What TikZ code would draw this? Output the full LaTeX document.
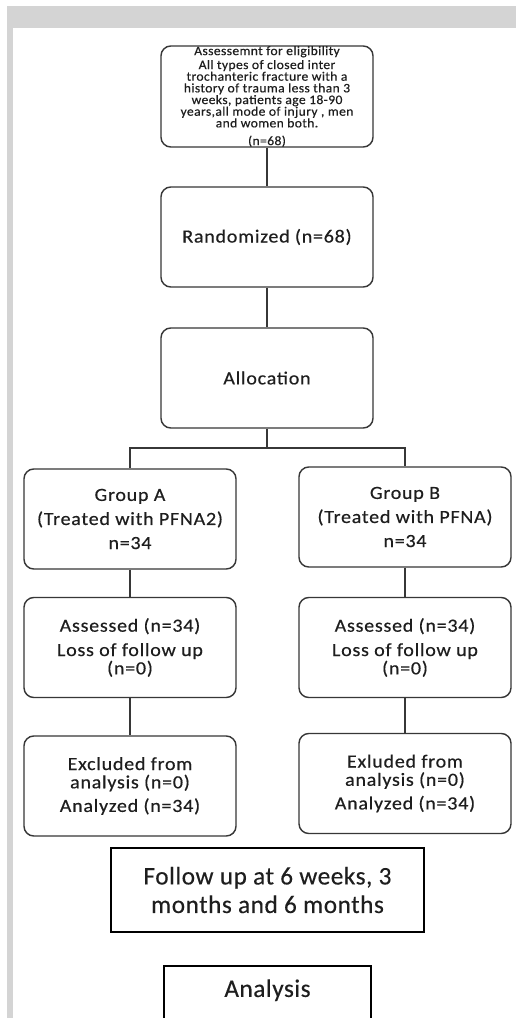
\documentclass[tikz,border=0pt]{standalone}
\usepackage{fontspec}
\usepackage{tikz}
\usepackage{xcolor}
\usetikzlibrary{positioning}
\setmainfont{Carlito}[LetterSpace=2,FakeBold=0.3]
\newfontfamily\boxfont{Carlito}[LetterSpace=4,FakeStretch=1.08,FakeBold=0.4]
\newfontfamily\topfont{Carlito}[LetterSpace=3,FakeStretch=1.05,FakeBold=0.4]
\definecolor{bandgray}{RGB}{212,212,212}
\definecolor{boxgray}{RGB}{55,55,55}
\definecolor{textdark}{RGB}{30,30,30}
\tikzset{
  flowbox/.style={draw=boxgray,line width=1pt,rounded corners=7pt,minimum width=5.3cm,
    minimum height=2.5cm,align=center,text=textdark,font=\boxfont\fontsize{13.2}{12.4}\selectfont},
  plainbox/.style={draw=black,line width=1.4pt,align=center,text=textdark,
    font=\fontsize{18}{20.3}\selectfont},
  link/.style={draw=boxgray,line width=1pt}
}

\begin{document}
\begin{tikzpicture}[x=0.025cm,y=-0.025cm]
  \clip (0,0) rectangle (516,1018);
  \fill[white] (0,0) rectangle (516,1018);
  \fill[bandgray] (7,6) rectangle (516,28);
  \fill[bandgray] (7,28) rectangle (13,1018);
  % eligibility and randomization
  \node[flowbox,inner ysep=0pt,minimum height=2.525cm,font=\topfont\fontsize{9.2}{8.3}\selectfont] (elig) at (267,96.5)
    {Assessemnt for eligibility\\[1.6pt]All types of closed inter\\trochanteric fracture with a\\history of trauma less than 3\\
     weeks, patients age 18-90\\years,all mode of injury , men\\and women both.\\[4.3pt](n=68)};
  \node[flowbox] (rand) at (267,237) {Randomized (n=68)};
  \node[flowbox] (alloc) at (267,378) {Allocation};
  \coordinate (split) at (267,448);
  % two arms
  \node[flowbox] (grpA) at (130,519) {Group A\\[4.7pt](Treated with PFNA2)\\[4.7pt]n=34};
  \node[flowbox] (grpB) at (405,517) {Group B\\[4.7pt](Treated with PFNA)\\[4.7pt]n=34};
  \node[flowbox] (assA) at (130,647.5) {Assessed (n=34)\\[4.9pt]Loss of follow up\\[0.6pt](n=0)};
  \node[flowbox] (assB) at (405,647.5) {Assessed (n=34)\\[4.9pt]Loss of follow up\\[0.6pt](n=0)};
  \node[flowbox] (excA) at (130,786) {Excluded from\\[0.6pt]analysis (n=0)\\[4.4pt]Analyzed (n=34)};
  \node[flowbox] (excB) at (405,783.5) {Exluded from\\[0.6pt]analysis (n=0)\\[4.4pt]Analyzed (n=34)};
  % follow up
  \node[plainbox,minimum width=7.825cm,minimum height=2.1cm] (follow) at (267.5,890)
    {Follow up at 6 weeks, 3\\months and 6 months};
  \node[plainbox,anchor=north,minimum width=5.175cm,inner ysep=0pt,text height=22pt,text depth=40pt] (analysis)
    at (267.5,965) {Analysis};
  \draw[link] (elig) -- (rand);
  \draw[link] (rand) -- (alloc);
  \draw[link] (alloc) -- (split);
  \draw[link] (grpA.north) |- (split) -| (grpB.north);
  \draw[link] (grpA) -- (assA);
  \draw[link] (assA) -- (excA);
  \draw[link] (grpB) -- (assB);
  \draw[link] (assB) -- (excB);
\end{tikzpicture}
\end{document}
